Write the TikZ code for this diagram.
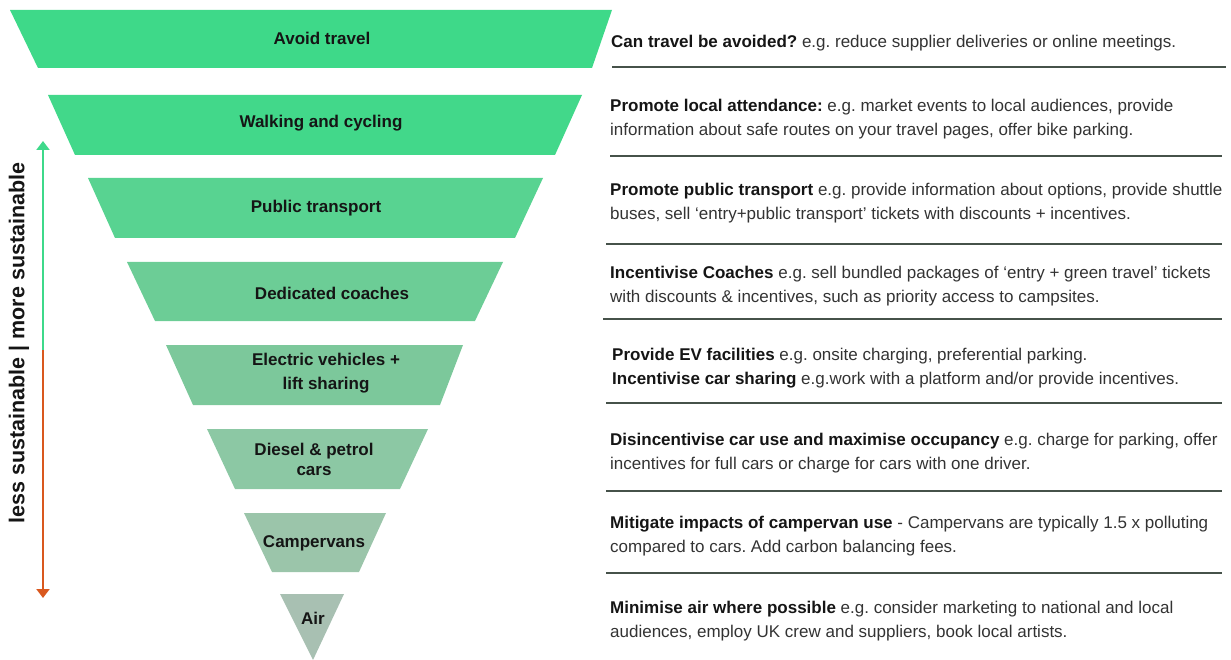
\documentclass[tikz,border=0pt]{standalone}
\usepackage{fontspec}
\setmainfont{Liberation Sans}
\usetikzlibrary{arrows.meta}
\definecolor{c1}{HTML}{3ED989}
\definecolor{c2}{HTML}{42D88A}
\definecolor{c3}{HTML}{58D391}
\definecolor{c4}{HTML}{6CCD96}
\definecolor{c5}{HTML}{7CC89B}
\definecolor{c6}{HTML}{8CC8A4}
\definecolor{c7}{HTML}{9BC5AA}
\definecolor{c8}{HTML}{A8C0B2}
\definecolor{rulec}{HTML}{46524A}
\definecolor{arrgreen}{HTML}{3ED98A}
\definecolor{arrorange}{HTML}{D9581E}
\definecolor{txt}{HTML}{333333}
\definecolor{btxt}{HTML}{151515}
\tikzset{
  lbl/.style={font=\fontsize{17}{20}\selectfont\bfseries, text=btxt, align=center, inner sep=0pt},
  desc/.style={font=\fontsize{17}{23.5}\selectfont, text=txt, align=left, anchor=west, inner sep=0pt},
  rulel/.style={draw=rulec, line width=1.6pt},
  sidearrow/.style={line width=2pt, -{Triangle[width=13pt,length=9pt]}},
}
\newcommand{\hb}[1]{\textcolor{btxt}{\bfseries #1}}
\frenchspacing
\begin{document}
\begin{tikzpicture}[x=1pt,y=-1pt]
\useasboundingbox (0,0) rectangle (1231,660);
% pyramid layers
\fill[c1] (10,10) -- (612,10) -- (592,68) -- (38,68) -- cycle;
\fill[c2] (48,95) -- (582,95) -- (555,155) -- (75,155) -- cycle;
\fill[c3] (88,178) -- (543,178) -- (515,238) -- (115,238) -- cycle;
\fill[c4] (127,262) -- (503,262) -- (475,321) -- (155,321) -- cycle;
\fill[c5] (166,345) -- (463,345) -- (440,405) -- (193,405) -- cycle;
\fill[c6] (207,429) -- (428,429) -- (400,489) -- (235,489) -- cycle;
\fill[c7] (244,513) -- (386,513) -- (359,572) -- (272,572) -- cycle;
\fill[c8] (280,594) -- (344,594) -- (313,660) -- cycle;
% labels
\node[lbl] (l1) at (322,38) {Avoid travel};
\node[lbl] (l2) at (321,123) {Walking and cycling};
\node[lbl] (l3) at (316,208) {Public transport};
\node[lbl] (l4) at (332,293) {Dedicated coaches};
\node[lbl, font=\fontsize{17}{24}\selectfont\bfseries] (l5) at (326,373) {Electric vehicles +\\lift sharing};
\node[lbl] (l6) at (314,459) {Diesel \& petrol\\cars};
\node[lbl] (l7) at (314,543) {Campervans};
\node[lbl] (l8) at (313,618) {Air};
% side arrow
\coordinate (atop) at (43,141);
\coordinate (amid) at (43,350);
\coordinate (abot) at (43,598);
\draw[arrgreen, sidearrow] (amid) -- (atop);
\draw[arrorange, sidearrow] (amid) -- (abot);
\node[rotate=90, font=\fontsize{21.5}{24}\selectfont\bfseries, text=btxt, inner sep=0pt] (side) at (19,343) {less sustainable | more sustainable};
% descriptions
\node[desc] (d1) at (611,43) {\hb{Can travel be avoided?} e.g. reduce supplier deliveries or online meetings.};
\node[desc] (d2) at (610,119) {\hb{Promote local attendance:} e.g. market events to local audiences, provide\\information about safe routes on your travel pages, offer bike parking.};
\node[desc] (d3) at (610,203) {\hb{Promote public transport} e.g. provide information about options, provide shuttle\\buses, sell ‘entry+public transport’ tickets with discounts + incentives.};
\node[desc] (d4) at (610,286) {\hb{Incentivise Coaches} e.g. sell bundled packages of ‘entry + green travel’ tickets\\with discounts \& incentives, such as priority access to campsites.};
\node[desc] (d5) at (612,368) {\hb{Provide EV facilities} e.g. onsite charging, preferential parking.\\\hb{Incentivise car sharing} e.g.work with a platform and/or provide incentives.};
\node[desc] (d6) at (610,453) {\hb{Disincentivise car use and maximise occupancy} e.g. charge for parking, offer\\incentives for full cars or charge for cars with one driver.};
\node[desc] (d7) at (610,536) {\hb{Mitigate impacts of campervan use} - Campervans are typically 1.5 x polluting\\compared to cars. Add carbon balancing fees.};
\node[desc] (d8) at (610,621) {\hb{Minimise air where possible} e.g. consider marketing to national and local\\audiences, employ UK crew and suppliers, book local artists.};
% separator rules
\coordinate (r1a) at (612,67);  \coordinate (r1b) at (1226,67);
\coordinate (r2a) at (610,156); \coordinate (r2b) at (1222,156);
\coordinate (r3a) at (606,244); \coordinate (r3b) at (1222,244);
\coordinate (r4a) at (603,319); \coordinate (r4b) at (1222,319);
\coordinate (r5a) at (606,403); \coordinate (r5b) at (1222,403);
\coordinate (r6a) at (606,491); \coordinate (r6b) at (1222,491);
\coordinate (r7a) at (606,573); \coordinate (r7b) at (1222,573);
\foreach \i in {1,...,7} { \draw[rulel] (r\i a) -- (r\i b); }
\end{tikzpicture}
\end{document}
